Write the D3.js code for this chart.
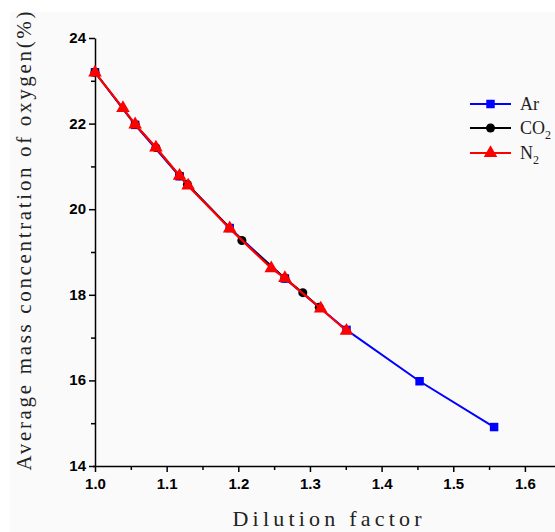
<!DOCTYPE html>
<html><head><meta charset="utf-8">
<script src="https://cdn.jsdelivr.net/npm/d3@7"></script>
<style>body{margin:0;background:#fff;}svg{display:block;}</style>
</head><body>
<svg id="c" width="555" height="532"></svg>
<script>
const arX = [1.0, 1.056, 1.118, 1.188, 1.265, 1.351, 1.453, 1.557];
const arY = [23.2, 21.97, 20.77, 19.56, 18.38, 17.18, 15.98, 14.91];
const co2X = [1.0, 1.056, 1.085, 1.118, 1.129, 1.205, 1.265, 1.29, 1.313];
const co2Y = [23.2, 21.98, 21.44, 20.78, 20.58, 19.27, 18.39, 18.05, 17.71];
const n2X = [1.0, 1.039, 1.056, 1.085, 1.118, 1.13, 1.188, 1.246, 1.265, 1.315, 1.351];
const n2Y = [23.19, 22.36, 21.98, 21.44, 20.78, 20.55, 19.55, 18.62, 18.39, 17.68, 17.16];
const xTicks = [1.0, 1.1, 1.2, 1.3, 1.4, 1.5, 1.6];
const yTicks = [14, 16, 18, 20, 22, 24];
const seriesNames = ["Ar", "CO2", "N2"];

const svg = d3.select("#c");
svg.append("rect").attr("x",10).attr("y",12).attr("width",545).attr("height",520).attr("fill","#fafafa");

const x = d3.scaleLinear().domain([1.0, 1.642]).range([95, 555]);
const y = d3.scaleLinear().domain([14, 24]).range([466, 38]);

const tickFont = "Arial, 'Liberation Sans', sans-serif";
// axes
const xAxis = d3.axisBottom(x).tickValues(xTicks).tickFormat(d3.format(".1f")).tickSize(6).tickSizeOuter(0);
const gx = svg.append("g").attr("transform","translate(0,466)").call(xAxis);
gx.select(".domain").attr("d","M93,0.5H555");
gx.selectAll("text").attr("font-family",tickFont).attr("font-weight","bold").attr("font-size","15px").attr("fill","#000").attr("dy","0.9em");
const xMinor = d3.axisBottom(x).tickValues([1.05,1.15,1.25,1.35,1.45,1.55]).tickFormat("").tickSize(4).tickSizeOuter(0);
svg.append("g").attr("transform","translate(0,466)").call(xMinor).select(".domain").remove();

const yAxis = d3.axisLeft(y).tickValues(yTicks).tickFormat(d3.format("d")).tickSize(6).tickSizeOuter(0);
const gy = svg.append("g").attr("transform","translate(95,0)").call(yAxis);
gy.selectAll("text").attr("font-family",tickFont).attr("font-weight","bold").attr("font-size","15px").attr("fill","#000").attr("dy","0.3em");
const yMinor = d3.axisLeft(y).tickValues([15,17,19,21,23]).tickFormat("").tickSize(4).tickSizeOuter(0);
svg.append("g").attr("transform","translate(95,0)").call(yMinor).select(".domain").remove();
svg.selectAll(".domain, .tick line").attr("stroke","#000").attr("stroke-width",1.5);

// titles
svg.append("text").attr("x",327).attr("y",526).attr("text-anchor","middle")
  .attr("font-family","'Liberation Serif', serif").attr("font-size","22px").attr("fill","#222")
  .attr("textLength",189).attr("lengthAdjust","spacing").text("Dilution factor");
svg.append("text").attr("transform","translate(31,241) rotate(-90)").attr("text-anchor","middle")
  .attr("font-family","'Liberation Serif', serif").attr("font-size","21px").attr("fill","#222")
  .attr("textLength",459).attr("lengthAdjust","spacing").text("Average mass concentration of oxygen(%)");

const line = d3.line().x(d=>x(d[0])).y(d=>y(d[1]));
const series = [
  {name:"Ar", xs:arX, ys:arY, color:"#0000ff", sym:d3.symbolSquare, size:72, lw:2},
  {name:"CO2", xs:co2X, ys:co2Y, color:"#000000", sym:d3.symbolCircle, size:64, lw:1.8},
  {name:"N2", xs:n2X, ys:n2Y, color:"#ff0000", sym:d3.symbolTriangle, size:80, lw:2.2}
];
series.forEach(s=>{
  const pts = s.xs.map((v,i)=>[v, s.ys[i]]);
  svg.append("path").datum(pts).attr("d",line).attr("fill","none").attr("stroke",s.color).attr("stroke-width",s.lw);
  svg.append("g").selectAll("path").data(pts).join("path")
    .attr("d", d3.symbol().type(s.sym).size(s.size))
    .attr("transform", d=>`translate(${x(d[0])},${y(d[1])})`)
    .attr("fill", s.color);
});

// legend
const legY = [104, 128, 153];
series.forEach((s,i)=>{
  const g = svg.append("g").attr("transform",`translate(470,${legY[i]})`);
  g.append("line").attr("x1",0).attr("x2",41).attr("stroke",s.color).attr("stroke-width",2);
  g.append("path").attr("d", d3.symbol().type(s.sym).size(s.size)).attr("transform","translate(20.5,0)").attr("fill",s.color);
  const t = g.append("text").attr("x",50).attr("y",6).attr("font-family","'Liberation Serif', serif").attr("font-size","18px").attr("fill","#222");
  if (s.name === "Ar") t.text("Ar");
  else {
    t.append("tspan").text(s.name.slice(0,-1));
    t.append("tspan").attr("font-size","12px").attr("dy",5).text(s.name.slice(-1));
  }
});
</script>
</body></html>
